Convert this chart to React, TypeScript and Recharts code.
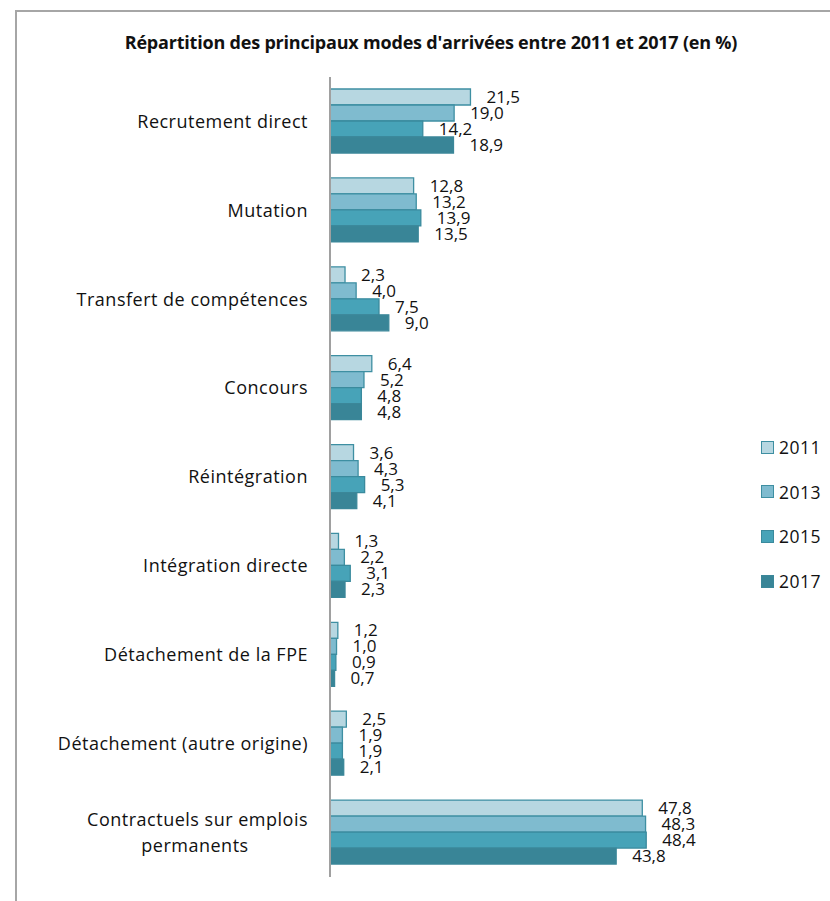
import { BarChart, Bar, XAxis, YAxis, LabelList } from "recharts";

const CATEGORIES = [
  "Recrutement direct",
  "Mutation",
  "Transfert de compétences",
  "Concours",
  "Réintégration",
  "Intégration directe",
  "Détachement de la FPE",
  "Détachement (autre origine)",
  "Contractuels sur emplois permanents",
];

const YEARS = ["2011", "2013", "2015", "2017"];
const V2011 = [21.5, 12.8, 2.3, 6.4, 3.6, 1.3, 1.2, 2.5, 47.8];
const V2013 = [19.0, 13.2, 4.0, 5.2, 4.3, 2.2, 1.0, 1.9, 48.3];
const V2015 = [14.2, 13.9, 7.5, 4.8, 5.3, 3.1, 0.9, 1.9, 48.4];
const V2017 = [18.9, 13.5, 9.0, 4.8, 4.1, 2.3, 0.7, 2.1, 43.8];

const FILLS = ["#b7d7e1", "#7fbbcf", "#47a3b8", "#398597"];
const STROKES = ["#3e8fa2", "#3e8fa2", "#3a8a9d", "#3b8799"];
const FONT = "'Open Sans', sans-serif";

const data = CATEGORIES.map((c, i) => ({
  name: c,
  y2011: V2011[i],
  y2013: V2013[i],
  y2015: V2015[i],
  y2017: V2017[i],
}));

const fmt = (v: any) => Number(v).toFixed(1).replace(".", ",");

function CatTick(props: any) {
  const { x, y, payload } = props;
  const label: string = payload.value;
  const common = { fontSize: 18, fill: "#111", fontFamily: FONT, letterSpacing: 0.5 };
  if (label.startsWith("Contractuels")) {
    return (
      <g>
        <text x={x} y={y - 13} dy="0.35em" textAnchor="end" {...common}>
          Contractuels sur emplois
        </text>
        <text x={x - 113} y={y + 13} dy="0.35em" textAnchor="middle" {...common}>
          permanents
        </text>
      </g>
    );
  }
  return (
    <text x={x} y={y} dy="0.35em" textAnchor="end" {...common}>
      {label}
    </text>
  );
}

function LegendBox() {
  return (
    <div style={{ position: "absolute", left: 761, top: 425, fontFamily: FONT, fontSize: 17.5, color: "#111", letterSpacing: 0.5 }}>
      {YEARS.map((yr, i) => (
        <div key={yr} style={{ display: "flex", alignItems: "center", height: 44.6 }}>
          <span
            style={{
              display: "inline-block",
              width: 11,
              height: 11,
              background: FILLS[i],
              border: `1px solid ${STROKES[i]}`,
              marginRight: 5,
            }}
          />
          {yr}
        </div>
      ))}
    </div>
  );
}

export default function App() {
  return (
    <div style={{ position: "fixed", left: 0, top: 0, width: 830, height: 901, overflow: "hidden", background: "#fff" }}>
      <div
        style={{
          position: "absolute",
          left: 15,
          top: 10,
          width: 900,
          height: 950,
          borderLeft: "2px solid #a6a6a6",
          borderTop: "2px solid #a6a6a6",
        }}
      />
      <div
        style={{
          position: "absolute",
          left: 0,
          top: 30,
          width: 862,
          textAlign: "center",
          fontFamily: FONT,
          fontWeight: 700,
          fontSize: 18,
          color: "#111",
          letterSpacing: -0.2,
        }}
      >
        Répartition des principaux modes d'arrivées entre 2011 et 2017 (en %)
      </div>
      <div style={{ position: "absolute", left: 0, top: 0 }}>
        <BarChart
          width={830}
          height={901}
          data={data}
          layout="vertical"
          margin={{ top: 77, right: 108, bottom: 24, left: 0 }}
          barGap={0}
          barCategoryGap={12}
        >
          <XAxis type="number" domain={[0, 60]} hide />
          <YAxis
            type="category"
            dataKey="name"
            width={330}
            tick={<CatTick />}
            tickLine={false}
            tickSize={0}
            tickMargin={22}
            axisLine={{ stroke: "#a0a0a0", strokeWidth: 2 }}
            interval={0}
          />
          {["y2011", "y2013", "y2015", "y2017"].map((k, i) => (
            <Bar
              key={k}
              dataKey={k}
              name={YEARS[i]}
              fill={FILLS[i]}
              stroke={STROKES[i]}
              strokeWidth={1.3}
              barSize={16}
              isAnimationActive={false}
            >
              <LabelList
                dataKey={k}
                position="right"
                offset={16}
                formatter={fmt}
                style={{ fontSize: 17, fill: "#111", fontFamily: FONT }}
              />
            </Bar>
          ))}
        </BarChart>
      </div>
      <LegendBox />
    </div>
  );
}
